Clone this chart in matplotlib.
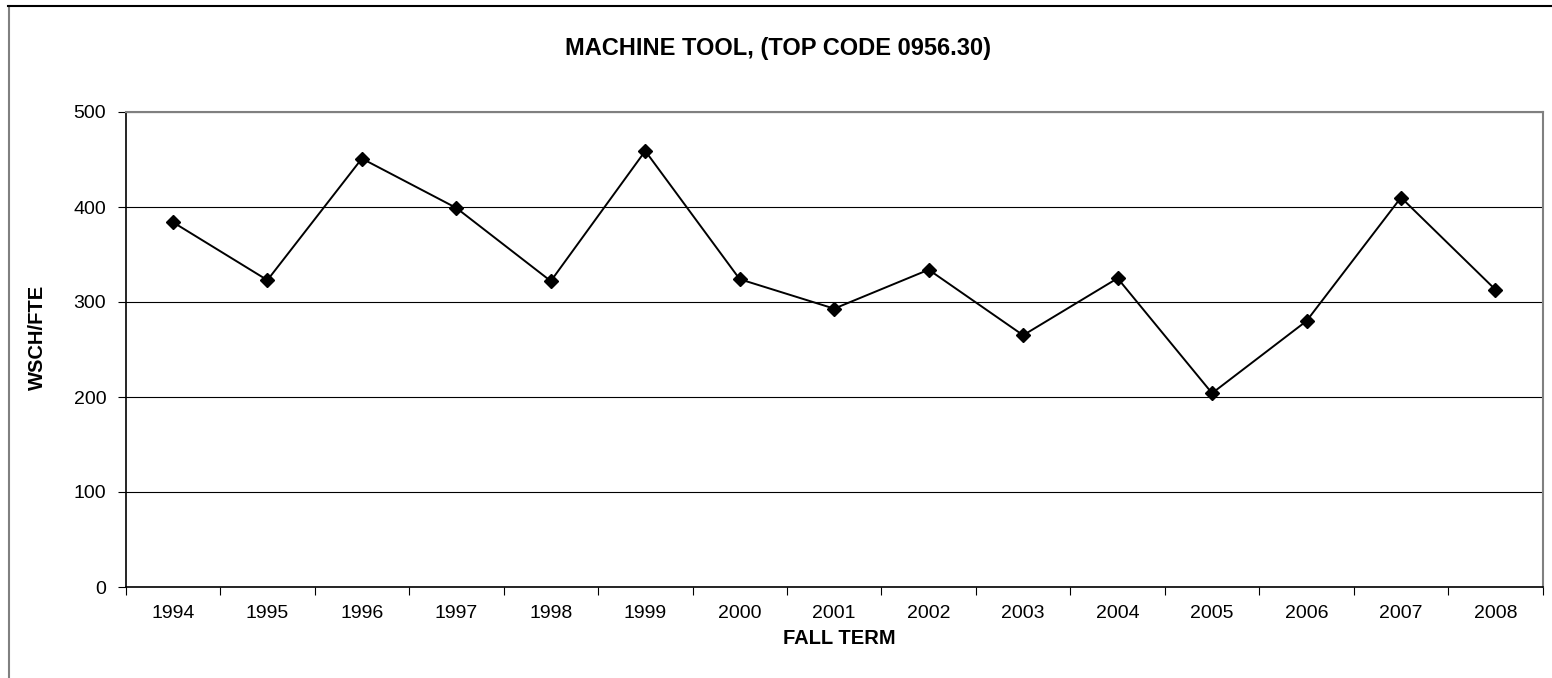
import matplotlib
matplotlib.use("Agg")
import matplotlib.pyplot as plt
from matplotlib.lines import Line2D

plt.rcParams['font.family'] = ['Liberation Sans', 'DejaVu Sans']

years = ['1994', '1995', '1996', '1997', '1998', '1999', '2000', '2001',
         '2002', '2003', '2004', '2005', '2006', '2007', '2008']
wsch_fte = [384, 323, 451, 399, 322, 459, 324, 293, 334, 265, 325, 204, 280, 410, 313]
y_ticks = [0, 100, 200, 300, 400, 500]

W, H = 1552, 678
fig = plt.figure(figsize=(W / 100, H / 100), dpi=100)
fig.patch.set_facecolor('white')

left, right, top, bottom = 125.7, 1542.7, 112.0, 587.0
ax = fig.add_axes([left / W, 1 - bottom / H, (right - left) / W, (bottom - top) / H])

x = list(range(len(years)))
ax.plot(x, wsch_fte, color='black', lw=1.4, marker='D', markersize=7.5,
        markerfacecolor='black', markeredgecolor='black', zorder=3, clip_on=False)

ax.set_xlim(-0.5, len(years) - 0.5)
ax.set_ylim(0, 500)
ax.set_yticks(y_ticks)
ax.set_yticklabels([str(v) for v in y_ticks], fontsize=14)
ax.yaxis.grid(True, color='black', lw=0.8)
ax.set_axisbelow(True)

ax.set_xticks(x)
ax.set_xticklabels(years, fontsize=14)
ax.set_xticks([i - 0.5 for i in range(len(years) + 1)], minor=True)
ax.tick_params(axis='x', which='major', length=0, pad=13)
ax.tick_params(axis='x', which='minor', length=6, width=0.8, color='black', direction='out')
ax.tick_params(axis='y', which='major', length=6, width=0.8, color='black', direction='out', pad=8)

for s in ['left', 'bottom']:
    ax.spines[s].set_color('black')
    ax.spines[s].set_linewidth(1.2)
for s in ['top', 'right']:
    ax.spines[s].set_color('#808080')
    ax.spines[s].set_linewidth(1.5)

fig.text(778 / W, 1 - 48 / H, 'MACHINE TOOL, (TOP CODE 0956.30)', ha='center', va='center',
         fontsize=17, fontweight='bold')
fig.text(839 / W, 1 - 638 / H, 'FALL TERM', ha='center', va='center',
         fontsize=14.5, fontweight='bold')
fig.text(37 / W, 1 - 337 / H, 'WSCH/FTE', ha='center', va='center', rotation=90,
         fontsize=14.5, fontweight='bold')

# outer chart frame (partially visible)
fig.add_artist(Line2D([8.5 / W, 8.5 / W], [1 - 6 / H, 0], transform=fig.transFigure,
                      color='#808080', lw=1.5))
fig.add_artist(Line2D([8 / W, 1], [1 - 6 / H, 1 - 6 / H], transform=fig.transFigure,
                      color='black', lw=1.5))

fig.savefig('out.png', dpi=100)
